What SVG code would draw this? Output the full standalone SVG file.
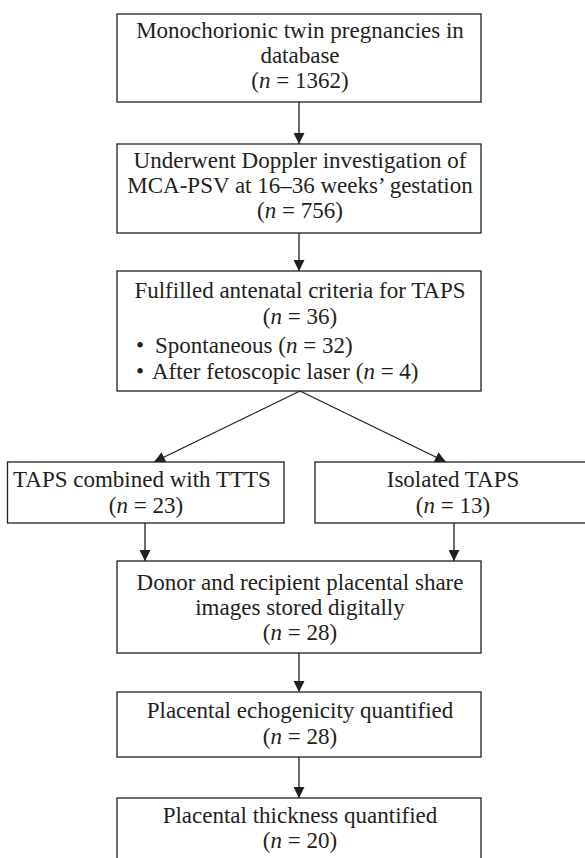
<svg xmlns="http://www.w3.org/2000/svg" width="585" height="858" viewBox="0 0 585 858">
<defs>
<style>
.box{fill:#fff;stroke:#231f20;stroke-width:1.3}
.t{font-family:"Liberation Serif","Times New Roman",serif;font-size:23px;fill:#231f20;text-anchor:middle}
.l{text-anchor:start}
.i{font-style:italic}
.c{stroke:#231f20;stroke-width:1.3;fill:none}
</style>
<marker id="ah" viewBox="0 0 12 12" refX="12" refY="6" markerWidth="11" markerHeight="11" markerUnits="userSpaceOnUse" orient="auto">
<path d="M0,0 L12,6 L0,12 Z" fill="#231f20"/>
</marker>
</defs>
<rect width="585" height="858" fill="#fff"/>
<g id="connectors">
<line class="c" x1="299" y1="102" x2="299" y2="144" marker-end="url(#ah)"/>
<line class="c" x1="299" y1="233" x2="299" y2="271" marker-end="url(#ah)"/>
<line class="c" x1="300" y1="391" x2="154" y2="462" marker-end="url(#ah)"/>
<line class="c" x1="300" y1="391" x2="446" y2="462" marker-end="url(#ah)"/>
<line class="c" x1="145" y1="523" x2="145" y2="561" marker-end="url(#ah)"/>
<line class="c" x1="454" y1="523" x2="454" y2="561" marker-end="url(#ah)"/>
<line class="c" x1="299" y1="653" x2="299" y2="692" marker-end="url(#ah)"/>
<line class="c" x1="299" y1="757" x2="299" y2="798" marker-end="url(#ah)"/>
</g>
<g id="n1">
<rect class="box" x="117" y="14" width="364" height="88"/>
<text class="t" x="300" y="38">Monochorionic twin pregnancies in</text>
<text class="t" x="300" y="63">database</text>
<text class="t" x="300" y="88">(<tspan class="i">n</tspan> = 1362)</text>
</g>
<g id="n2">
<rect class="box" x="117" y="144" width="364" height="89"/>
<text class="t" x="300" y="168">Underwent Doppler investigation of</text>
<text class="t" x="300" y="193">MCA-PSV at 16–36 weeks’ gestation</text>
<text class="t" x="300" y="218">(<tspan class="i">n</tspan> = 756)</text>
</g>
<g id="n3">
<rect class="box" x="117" y="271" width="364" height="120"/>
<text class="t" x="300" y="298">Fulfilled antenatal criteria for TAPS</text>
<text class="t" x="300" y="324">(<tspan class="i">n</tspan> = 36)</text>
<text class="t l" x="136" y="353">•</text>
<text class="t l" x="155" y="353">Spontaneous (<tspan class="i">n</tspan> = 32)</text>
<text class="t l" x="136" y="379">•</text>
<text class="t l" x="152" y="379">After fetoscopic laser (<tspan class="i">n</tspan> = 4)</text>
</g>
<g id="n4">
<rect class="box" x="7.5" y="462" width="276.5" height="61"/>
<text class="t" x="142" y="487">TAPS combined with TTTS</text>
<text class="t" x="146" y="513">(<tspan class="i">n</tspan> = 23)</text>
</g>
<g id="n5">
<rect class="box" x="315" y="462" width="276" height="61"/>
<text class="t" x="453" y="487">Isolated TAPS</text>
<text class="t" x="453" y="513">(<tspan class="i">n</tspan> = 13)</text>
</g>
<g id="n6">
<rect class="box" x="117" y="561" width="364" height="92"/>
<text class="t" x="300" y="590">Donor and recipient placental share</text>
<text class="t" x="300" y="615">images stored digitally</text>
<text class="t" x="300" y="640">(<tspan class="i">n</tspan> = 28)</text>
</g>
<g id="n7">
<rect class="box" x="117" y="692" width="364" height="65"/>
<text class="t" x="300" y="718">Placental echogenicity quantified</text>
<text class="t" x="300" y="744">(<tspan class="i">n</tspan> = 28)</text>
</g>
<g id="n8">
<rect class="box" x="117" y="798" width="364" height="80"/>
<text class="t" x="300" y="823">Placental thickness quantified</text>
<text class="t" x="300" y="848">(<tspan class="i">n</tspan> = 20)</text>
</g>
</svg>
